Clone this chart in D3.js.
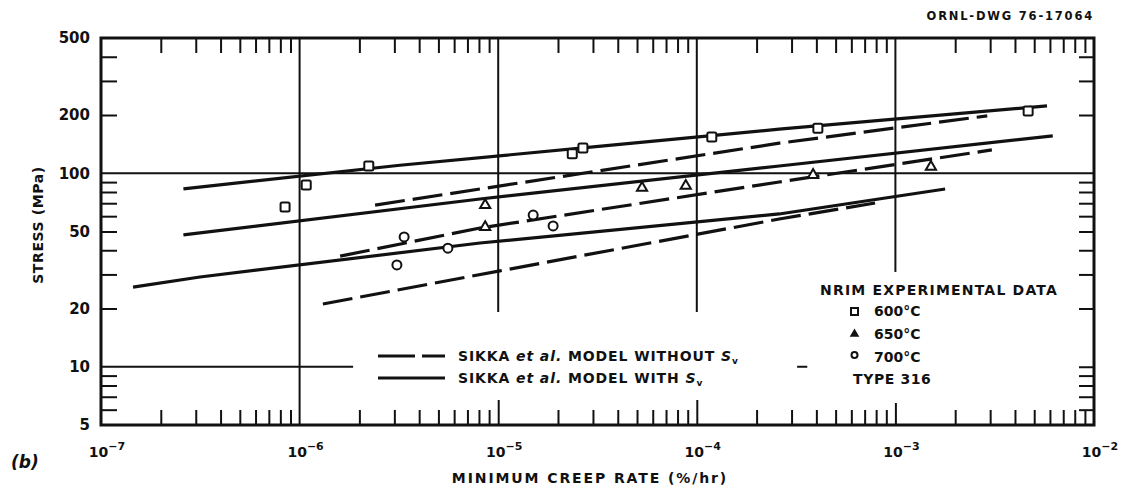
<!DOCTYPE html>
<html>
<head>
<meta charset="utf-8">
<script src="https://cdn.jsdelivr.net/npm/d3@7"></script>
<style>
  body { margin: 0; background: #fff; }
  svg { display: block; }
  text { font-family: "DejaVu Sans", "Liberation Sans", sans-serif; font-weight: bold; fill: #111; }
</style>
</head>
<body>
<div id="chart"></div>
<script>
// NRIM experimental data (type 316)
var sq600X = [8.45e-7, 1.08e-6, 2.23e-6, 2.36e-5, 2.67e-5, 1.19e-4, 4.07e-4, 4.66e-3];
var sq600Y = [67, 87, 109, 126, 135, 154, 171, 210];
var tri650X = [8.6e-6, 8.6e-6, 5.3e-5, 8.8e-5, 3.85e-4, 1.51e-3];
var tri650Y = [68.5, 52.7, 84, 86, 98, 108];
var circ700X = [3.09e-6, 3.36e-6, 5.58e-6, 1.5e-5, 1.89e-5];
var circ700Y = [33.6, 46.9, 41, 60.8, 53.4];

// Sikka et al. model WITH Sv (solid)
var with600X = [2.6e-7, 3.2e-6, 3.3e-5, 2.6e-4, 5.8e-3];
var with600Y = [83, 110, 138, 169, 223];
var with650X = [2.6e-7, 8.1e-6, 2.6e-4, 6.2e-3];
var with650Y = [48, 73.6, 109, 156];
var with700X = [1.45e-7, 3.15e-7, 8.1e-6, 2.6e-4, 1.78e-3];
var with700Y = [25.8, 29.1, 43.6, 61.6, 82.9];

// Sikka et al. model WITHOUT Sv (dashed)
var without600X = [2.4e-6, 8.1e-6, 2.6e-4, 2.9e-3];
var without600Y = [68.5, 82.9, 143, 198];
var without650X = [1.6e-6, 8.1e-6, 2.6e-4, 3.06e-3];
var without650Y = [37.3, 52.1, 90.1, 132];
var without700X = [1.31e-6, 1.02e-5, 2.6e-4, 7.9e-4];
var without700Y = [21.1, 31.3, 58, 70.2];

var yLabels = [5, 10, 20, 50, 100, 200, 500];
var xDecades = [-7, -6, -5, -4, -3, -2];
var yMinor = [6, 7, 8, 9, 20, 30, 40, 50, 60, 70, 80, 90, 200, 300, 400];

var plot = { width: 1129, height: 489, top: 38, right: 1094, bottom: 425, left: 101 };

var svg = d3.select("#chart").append("svg")
  .attr("width", plot.width)
  .attr("height", plot.height);

var x = d3.scaleLog().domain([1e-7, 1e-2]).range([plot.left, plot.right]);
var y = d3.scaleLog().domain([5, 500]).range([plot.bottom, plot.top]);

/* minor ticks, all pointing inwards */
var xMinor = [];
for (let e = -7; e <= -3; e++) {
  for (let m = 2; m <= 9; m++) xMinor.push(m * Math.pow(10, e));
}

function tickStyle(g) {
  g.select(".domain").remove();
  g.selectAll("line").attr("stroke", "#111").attr("stroke-width", 2);
  g.selectAll("text").remove();
}

svg.append("g").attr("transform", `translate(0, ${plot.top})`)
  .call(d3.axisBottom(x).tickValues(xMinor).tickSize(15)).call(tickStyle);
svg.append("g").attr("transform", `translate(0, ${plot.bottom})`)
  .call(d3.axisTop(x).tickValues(xMinor).tickSize(15)).call(tickStyle);
svg.append("g").attr("transform", `translate(0, ${plot.bottom})`)
  .call(d3.axisTop(x).tickValues([1e-5, 1e-4]).tickSize(25)).call(tickStyle);
svg.append("g").attr("transform", `translate(0, ${plot.bottom})`)
  .call(d3.axisTop(x).tickValues([1e-3]).tickSize(22)).call(tickStyle);
svg.append("g").attr("transform", `translate(${plot.left}, 0)`)
  .call(d3.axisRight(y).tickValues(yMinor).tickSize(16)).call(tickStyle);
svg.append("g").attr("transform", `translate(${plot.right}, 0)`)
  .call(d3.axisLeft(y).tickValues(yMinor.concat([10])).tickSize(15)).call(tickStyle);

/* grid lines (partly broken like the drawing) */
var grid = svg.append("g").attr("stroke", "#111").attr("stroke-width", 2);
grid.append("line").attr("x1", x(1e-6)).attr("x2", x(1e-6)).attr("y1", y(500)).attr("y2", y(5));
grid.append("line").attr("x1", x(1e-5)).attr("x2", x(1e-5)).attr("y1", y(500)).attr("y2", y(19.2));
grid.append("line").attr("x1", x(1e-4)).attr("x2", x(1e-4)).attr("y1", y(500)).attr("y2", y(19.2));
grid.append("line").attr("x1", x(1e-3)).attr("x2", x(1e-3)).attr("y1", y(500)).attr("y2", y(30.9));
grid.append("line").attr("x1", x(1e-7)).attr("x2", x(1e-2)).attr("y1", y(100)).attr("y2", y(100));
grid.append("line").attr("x1", x(1e-7)).attr("x2", x(1.86e-6)).attr("y1", y(10)).attr("y2", y(10));
grid.append("line").attr("x1", x(3.2e-4)).attr("x2", x(3.6e-4)).attr("y1", y(10)).attr("y2", y(10));

/* frame */
svg.append("rect")
  .attr("x", plot.left).attr("y", plot.top)
  .attr("width", plot.right - plot.left).attr("height", plot.bottom - plot.top)
  .attr("fill", "none").attr("stroke", "#111").attr("stroke-width", 3);

/* y labels */
var yAxis = svg.append("g").attr("transform", `translate(${plot.left}, 0)`)
  .call(d3.axisLeft(y).tickValues(yLabels).tickSize(0).tickPadding(11).tickFormat(d3.format("d")));
yAxis.select(".domain").remove();
yAxis.selectAll("text")
  .attr("font-family", "DejaVu Sans").attr("font-weight", "bold").attr("font-size", 15).attr("fill", "#111");

/* x labels with superscripts */
xDecades.forEach((e) => {
  let t = svg.append("text")
    .attr("x", x(Math.pow(10, e)) + 6)
    .attr("y", 457)
    .attr("text-anchor", "middle")
    .style("font-size", "14px");
  t.append("tspan").text("10");
  t.append("tspan").attr("dy", -7).style("font-size", "11px").text("\u2212" + (-e));
});

/* curves */
var line = d3.line().x((d) => x(d[0])).y((d) => y(d[1]));
var zip = (a, b) => a.map((v, i) => [v, b[i]]);

[[with600X, with600Y], [with650X, with650Y], [with700X, with700Y]].forEach((s) => {
  svg.append("path").attr("d", line(zip(s[0], s[1])))
    .attr("fill", "none").attr("stroke", "#111").attr("stroke-width", 3.2)
    .attr("stroke-linejoin", "round");
});
[[without600X, without600Y], [without650X, without650Y], [without700X, without700Y]].forEach((s) => {
  svg.append("path").attr("d", line(zip(s[0], s[1])))
    .attr("fill", "none").attr("stroke", "#111").attr("stroke-width", 3.2)
    .attr("stroke-linejoin", "round")
    .attr("stroke-dasharray", "30,8");
});

/* markers */
var marks = svg.append("g").attr("fill", "#fff").attr("stroke", "#111").attr("stroke-width", 2);
marks.selectAll(".sq").data(zip(sq600X, sq600Y)).enter().append("rect")
  .attr("x", (d) => x(d[0]) - 4.5).attr("y", (d) => y(d[1]) - 4.5)
  .attr("width", 9).attr("height", 9).attr("rx", 1.5);
marks.selectAll(".tri").data(zip(tri650X, tri650Y)).enter().append("path")
  .attr("d", d3.symbol(d3.symbolTriangle, 45))
  .attr("transform", (d) => `translate(${x(d[0])}, ${y(d[1])})`);
marks.selectAll(".circ").data(zip(circ700X, circ700Y)).enter().append("circle")
  .attr("cx", (d) => x(d[0])).attr("cy", (d) => y(d[1])).attr("r", 4.5);

/* axis titles */
svg.append("text")
  .attr("transform", "translate(43, 225) rotate(-90)")
  .attr("text-anchor", "middle")
  .style("font-size", "14px").style("letter-spacing", "0.6px")
  .text("STRESS (MPa)");
svg.append("text")
  .attr("x", 590).attr("y", 483)
  .attr("text-anchor", "middle")
  .style("font-size", "14px").style("letter-spacing", "1.9px")
  .text("MINIMUM CREEP RATE (%/hr)");
svg.append("text")
  .attr("x", 1094).attr("y", 20)
  .attr("text-anchor", "end")
  .style("font-size", "11.5px").style("letter-spacing", "1.8px")
  .text("ORNL-DWG 76-17064");
svg.append("text")
  .attr("x", 11).attr("y", 468)
  .style("font-size", "17px").style("font-style", "italic")
  .text("(b)");

/* model legend */
svg.append("line").attr("x1", 378).attr("x2", 445).attr("y1", 356).attr("y2", 356)
  .attr("stroke", "#111").attr("stroke-width", 3).attr("stroke-dasharray", "37,7");
svg.append("line").attr("x1", 378).attr("x2", 445).attr("y1", 378).attr("y2", 378)
  .attr("stroke", "#111").attr("stroke-width", 3);
[["WITHOUT", 361], ["WITH", 383]].forEach((r) => {
  let t = svg.append("text").attr("x", 458).attr("y", r[1])
    .style("font-size", "14px").style("letter-spacing", "0.9px");
  t.append("tspan").text("SIKKA ");
  t.append("tspan").style("font-style", "italic").text("et al.");
  t.append("tspan").text(" MODEL " + r[0] + " ");
  t.append("tspan").style("font-style", "italic").text("S");
  t.append("tspan").attr("dy", 3).style("font-size", "9px").text("v");
});

/* data legend */
svg.append("text").attr("x", 820).attr("y", 295).style("font-size", "14px").style("letter-spacing", "1.2px")
  .text("NRIM EXPERIMENTAL DATA");
var dataLegend = [["600\u00b0C", 311], ["650\u00b0C", 334], ["700\u00b0C", 357]];
svg.append("rect").attr("x", 851).attr("y", 308).attr("width", 7).attr("height", 7)
  .attr("fill", "#fff").attr("stroke", "#111").attr("stroke-width", 2);
svg.append("path").attr("d", d3.symbol(d3.symbolTriangle, 40))
  .attr("transform", "translate(854.5, 334)").attr("fill", "#111");
svg.append("circle").attr("cx", 854.5).attr("cy", 355).attr("r", 3)
  .attr("fill", "#fff").attr("stroke", "#111").attr("stroke-width", 2);
dataLegend.forEach((r) => {
  svg.append("text").attr("x", 874).attr("y", r[1] + 5).style("font-size", "14px").text(r[0]);
});
svg.append("text").attr("x", 853).attr("y", 384).style("font-size", "14px").style("letter-spacing", "0.6px")
  .text("TYPE 316");
</script>
</body>
</html>
